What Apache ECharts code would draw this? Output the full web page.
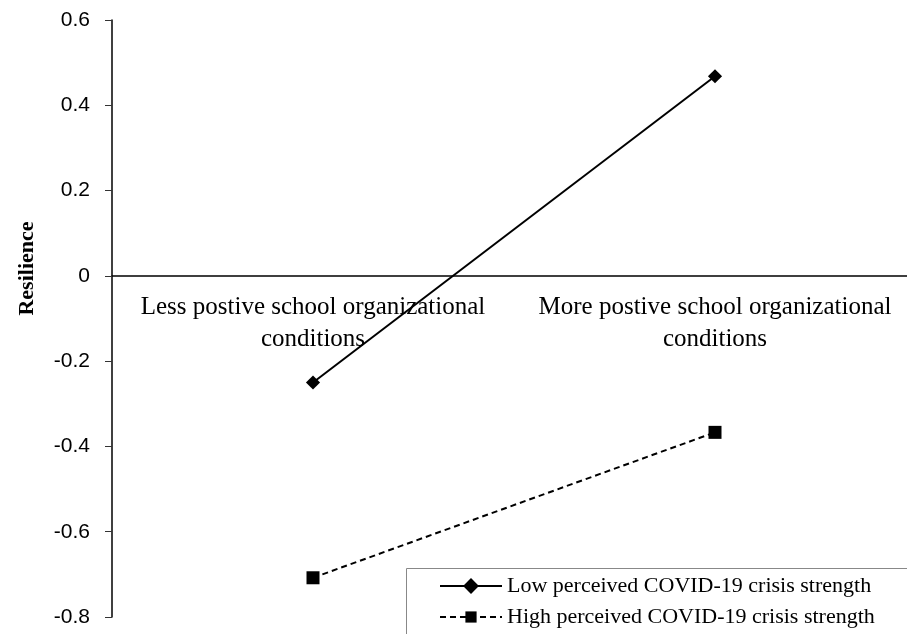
<!DOCTYPE html>
<html>
<head>
<meta charset="utf-8">
<script src="https://cdn.jsdelivr.net/npm/echarts@6/dist/echarts.min.js"></script>
<style>
  html, body { margin: 0; padding: 0; background: #fff; }
  #main { width: 907px; height: 634px; }
</style>
</head>
<body>
<div id="main"></div>
<script>
const categories = ['Less postive school organizational\nconditions', 'More postive school organizational\nconditions'];
const lowStrength = [-0.25, 0.468];
const highStrength = [-0.708, -0.367];
const seriesNames = ['Low perceived COVID-19 crisis strength', 'High perceived COVID-19 crisis strength'];
const yMin = -0.8, yMax = 0.6, yStep = 0.2;

const serif = '"Liberation Serif", "Times New Roman", serif';
const sans = '"Liberation Sans", Arial, sans-serif';

const gridTop = 20, gridBottom = 17, chartH = 634;
const plotH = chartH - gridTop - gridBottom;
// move the category axis up to the y = 0 line (labels stay under it)
const zeroShift = -(plotH * (0 - yMin) / (yMax - yMin));

const chart = echarts.init(document.getElementById('main'));
chart.setOption({
    animation: false,
    grid: { left: 112, top: gridTop, bottom: gridBottom, right: -9, containLabel: false, outerBoundsMode: 'none' },
    // legend frame runs off the bottom/right edge like the original
    graphic: [{
        type: 'rect',
        left: 406, top: 568,
        shape: { width: 520, height: 90 },
        style: { fill: '#fff', stroke: '#888', lineWidth: 1 },
        z: 5
    }],
    legend: {
        orient: 'vertical',
        left: 406,
        top: 573,
        height: 90,
        padding: [0, 0, 0, 33],
        itemGap: 5,
        itemWidth: 62,
        itemHeight: 14,
        z: 10,
        textStyle: { fontFamily: serif, fontSize: 22, lineHeight: 26, color: '#000' },
        data: seriesNames
    },
    xAxis: {
        type: 'category',
        data: categories,
        position: 'bottom',
        offset: zeroShift,
        axisLine: { onZero: false, lineStyle: { color: '#000', width: 1.5 } },
        axisTick: { show: false },
        axisLabel: { interval: 0, hideOverlap: false, fontFamily: serif, fontSize: 25, color: '#000', lineHeight: 32, margin: 16 }
    },
    yAxis: {
        type: 'value',
        min: yMin,
        max: yMax,
        interval: yStep,
        name: 'Resilience',
        nameLocation: 'middle',
        nameGap: 74,
        nameTextStyle: { fontFamily: serif, fontSize: 22, fontWeight: 'bold', color: '#000', padding: [0, 0, 0, 100] },
        axisLine: { show: true, lineStyle: { color: '#000', width: 1.5 } },
        axisTick: { show: true, length: 7, lineStyle: { color: '#333' } },
        splitLine: { show: false },
        axisLabel: {
            fontFamily: sans, fontSize: 21, color: '#000', margin: 22,
            formatter: v => Math.abs(v) < 1e-9 ? '0' : v.toFixed(1)
        }
    },
    series: [
        {
            name: seriesNames[0],
            type: 'line',
            data: lowStrength,
            symbol: 'rect',
            symbolRotate: 45,
            symbolSize: 10,
            itemStyle: { color: '#000' },
            lineStyle: { color: '#000', width: 2 }
        },
        {
            name: seriesNames[1],
            type: 'line',
            data: highStrength,
            symbol: 'rect',
            symbolSize: 13,
            itemStyle: { color: '#000' },
            lineStyle: { color: '#000', width: 2, type: [6, 4] }
        }
    ]
});
</script>
</body>
</html>
